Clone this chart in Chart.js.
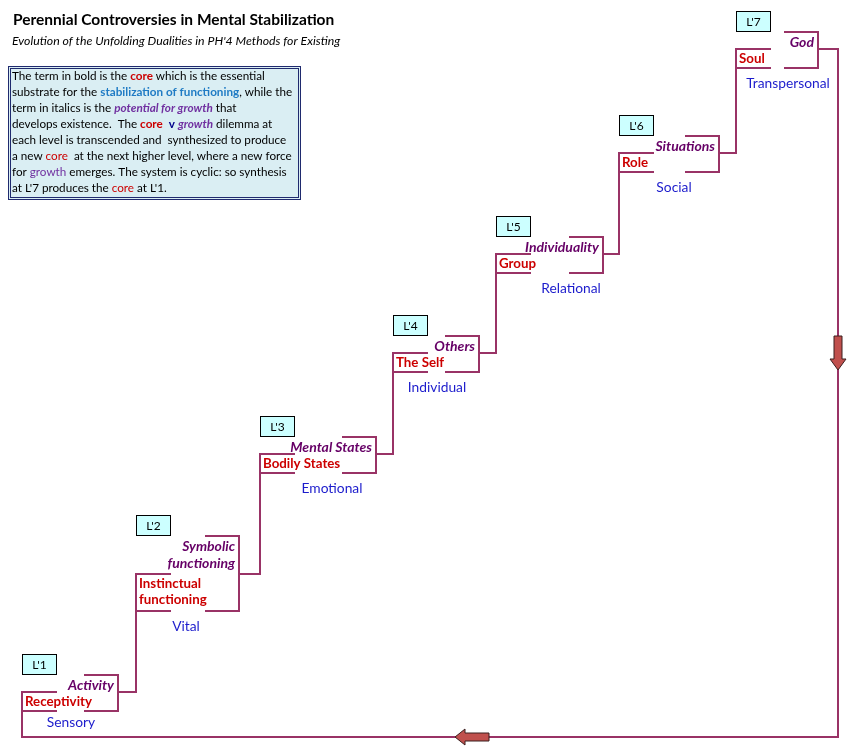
<!DOCTYPE html>
<html>
<head>
<meta charset="utf-8">
<script src="https://cdn.jsdelivr.net/npm/chart.js@4.4.1/dist/chart.umd.min.js"></script>
<style>
  html, body { margin: 0; padding: 0; background: #fff; }
  #wrap { width: 855px; height: 752px; }
</style>
</head>
<body>
<div id="wrap"><canvas id="myChart" width="855" height="752"></canvas></div>
<script>
// levels of the staircase, bottom to top
const levels = ["L'1", "L'2", "L'3", "L'4", "L'5", "L'6", "L'7"];
const cores = [["Receptivity"], ["Instinctual", "functioning"], ["Bodily States"], ["The Self"], ["Group"], ["Role"], ["Soul"]];
const growths = [["Activity"], ["Symbolic", "functioning"], ["Mental States"], ["Others"], ["Individuality"], ["Situations"], ["God"]];
const domains = ["Sensory", "Vital", "Emotional", "Individual", "Relational", "Social", "Transpersonal"];

// step values (axis units)
const stepX = [22, 136, 260, 393, 496, 619, 736];      // left edge of core bracket
const stepTop = [692, 574, 454, 353, 254, 153, 49];    // core top / connector level
const growthRight = [118, 239, 376, 479, 603, 719, 818];
const domainX = [71, 186, 332, 437, 571, 674, 788];
const loopBottom = 737;
const loopRight = 838;

const LINE = '#993366';
const FONT = 'Lato, "Open Sans", sans-serif';

function growthTop(i) { return stepTop[i] - 17 - 21 * (cores[i].length - 1); }
function stepBottom(i) { return stepTop[i] + 19 + 18 * (cores[i].length - 1); }

const datasets = [];
function addLine(pts) {
  datasets.push({
    data: pts.map(p => ({ x: p[0], y: p[1] })),
    showLine: true,
    borderColor: LINE,
    borderWidth: 2,
    pointRadius: 0,
    fill: false,
    tension: 0,
    borderJoinStyle: 'miter',
    borderCapStyle: 'butt'
  });
}

levels.forEach(function (lv, i) {
  const bot = stepBottom(i);
  const gt = growthTop(i);
  // core bracket bottom tab
  addLine([[stepX[i], bot], [stepX[i] + 35, bot]]);
  // growth bracket
  addLine([[growthRight[i] - 34, gt], [growthRight[i], gt], [growthRight[i], bot], [growthRight[i] - 34, bot]]);
  // connector up to the next level
  if (i < levels.length - 1) {
    addLine([[growthRight[i], stepTop[i]], [stepX[i + 1], stepTop[i]], [stepX[i + 1], stepTop[i + 1]], [stepX[i + 1] + 35, stepTop[i + 1]]]);
  }
});
// the cycle back from L'7 to L'1
const last = levels.length - 1;
addLine([[growthRight[last], stepTop[last]], [loopRight, stepTop[last]], [loopRight, loopBottom], [stepX[0], loopBottom], [stepX[0], stepTop[0]], [stepX[0] + 35, stepTop[0]]]);

// text of the explanation box
const BS = '11.7px ';
const styles = {
  n: { f: BS + FONT, c: '#000' },
  coreB: { f: 'bold ' + BS + FONT, c: '#cc0000' },
  stab: { f: 'bold ' + BS + FONT, c: '#1f7bc4' },
  potB: { f: 'italic bold ' + BS + FONT, c: '#7030a0' },
  vB: { f: 'bold ' + BS + FONT, c: '#00008b' },
  coreN: { f: BS + FONT, c: '#cc0000' },
  grN: { f: BS + FONT, c: '#7030a0' }
};
const infoLines = [
  [['The term in bold is the ', 'n'], ['core', 'coreB'], [' which is the essential', 'n']],
  [['substrate for the ', 'n'], ['stabilization of functioning', 'stab'], [', while the', 'n']],
  [['term in italics is the ', 'n'], ['potential for growth', 'potB'], [' that', 'n']],
  [['develops existence.  The ', 'n'], ['core', 'coreB'], ['  ', 'n'], ['v', 'vB'], [' ', 'n'], ['growth', 'potB'], [' dilemma at', 'n']],
  [['each level is transcended and  synthesized to produce', 'n']],
  [['a new ', 'n'], ['core', 'coreN'], ['  at the next higher level, where a new force', 'n']],
  [['for ', 'n'], ['growth', 'grN'], [' emerges. The system is cyclic: so synthesis', 'n']],
  [["at L'7 produces the ", 'n'], ['core', 'coreN'], [" at L'1.", 'n']]
];

function drawArrow(ctx, pts) {
  ctx.save();
  ctx.beginPath();
  pts.forEach(function (p, k) { if (k === 0) ctx.moveTo(p[0], p[1]); else ctx.lineTo(p[0], p[1]); });
  ctx.closePath();
  ctx.fillStyle = '#c0504d';
  ctx.fill();
  ctx.strokeStyle = '#3b1f1f';
  ctx.lineWidth = 1;
  ctx.stroke();
  ctx.restore();
}

const diagramPlugin = {
  id: 'diagram',
  afterDatasetsDraw(chart) {
    const ctx = chart.ctx;
    const X = v => chart.scales.x.getPixelForValue(v);
    const Y = v => chart.scales.y.getPixelForValue(v);
    ctx.save();
    ctx.textBaseline = 'middle';

    // title
    ctx.fillStyle = '#000';
    ctx.font = 'bold 15.5px ' + FONT;
    ctx.textAlign = 'left';
    ctx.fillText('Perennial Controversies in Mental Stabilization', X(13), Y(20));
    ctx.font = 'italic 12.3px ' + FONT;
    ctx.fillText("Evolution of the Unfolding Dualities in PH'4 Methods for Existing", X(12), Y(41));

    // explanation box
    const bx = X(8), by = Y(66), bw = X(301) - X(8), bh = Y(200) - Y(66);
    ctx.fillStyle = '#daeef3';
    ctx.fillRect(bx, by, bw, bh);
    ctx.strokeStyle = '#1f2a6e';
    ctx.lineWidth = 1;
    ctx.strokeRect(bx + 0.5, by + 0.5, bw - 1, bh - 1);
    ctx.strokeRect(bx + 2.5, by + 2.5, bw - 5, bh - 5);
    infoLines.forEach(function (line, k) {
      let x = X(12);
      const y = Y(76 + 16 * k);
      line.forEach(function (run) {
        const s = styles[run[1]];
        ctx.font = s.f;
        ctx.fillStyle = s.c;
        ctx.fillText(run[0], x, y);
        x += ctx.measureText(run[0]).width;
      });
    });

    // levels
    levels.forEach(function (lv, i) {
      const gt = growthTop(i);
      const bot = stepBottom(i);
      // level box
      const lx = X(stepX[i]), ly = Y(gt - 21), lw = X(stepX[i] + 35) - X(stepX[i]), lh = Y(gt) - Y(gt - 21);
      ctx.fillStyle = '#ccffff';
      ctx.fillRect(lx, ly, lw, lh);
      ctx.strokeStyle = '#000';
      ctx.lineWidth = 1;
      ctx.strokeRect(lx + 0.5, ly + 0.5, lw - 1, lh - 1);
      ctx.fillStyle = '#000';
      ctx.font = '12px ' + FONT;
      ctx.textAlign = 'center';
      ctx.fillText(lv, lx + lw / 2, ly + lh / 2 + 0.5);

      // growth term
      ctx.font = 'italic bold 14px ' + FONT;
      ctx.fillStyle = '#660066';
      ctx.textAlign = 'right';
      growths[i].forEach(function (t, k) {
        ctx.fillText(t, X(growthRight[i] - 4), Y(gt + 10 + 17 * k));
      });
      // core term
      ctx.font = 'bold 13.3px ' + FONT;
      ctx.fillStyle = '#cc0000';
      ctx.textAlign = 'left';
      cores[i].forEach(function (t, k) {
        ctx.fillText(t, X(stepX[i] + 3), Y(stepTop[i] + 10 + 16 * k));
      });
      // domain
      ctx.font = '13.8px ' + FONT;
      ctx.fillStyle = '#1c1ccc';
      ctx.textAlign = 'center';
      ctx.fillText(domains[i], X(domainX[i]), Y(i === 0 ? bot + 12 : bot + 16));
    });

    // direction arrows on the cycle line
    const ax = X(loopRight);
    drawArrow(ctx, [[ax - 4, Y(336)], [ax + 4, Y(336)], [ax + 4, Y(359)], [ax + 8, Y(359)], [ax, Y(370)], [ax - 8, Y(359)], [ax - 4, Y(359)]]);
    const ay = Y(loopBottom);
    drawArrow(ctx, [[X(489), ay - 4], [X(489), ay + 4], [X(465), ay + 4], [X(465), ay + 8], [X(455), ay], [X(465), ay - 8], [X(465), ay - 4]]);
    ctx.restore();
  }
};

const ctx = document.getElementById('myChart').getContext('2d');
const chart = new Chart(ctx, {
  type: 'scatter',
  data: { datasets: datasets },
  options: {
    responsive: false,
    animation: false,
    layout: { padding: 0 },
    plugins: { legend: { display: false }, tooltip: { enabled: false } },
    scales: {
      x: { type: 'linear', min: 0, max: 855, display: false },
      y: { type: 'linear', min: 0, max: 752, reverse: true, display: false }
    }
  },
  plugins: [diagramPlugin]
});
</script>
</body>
</html>
